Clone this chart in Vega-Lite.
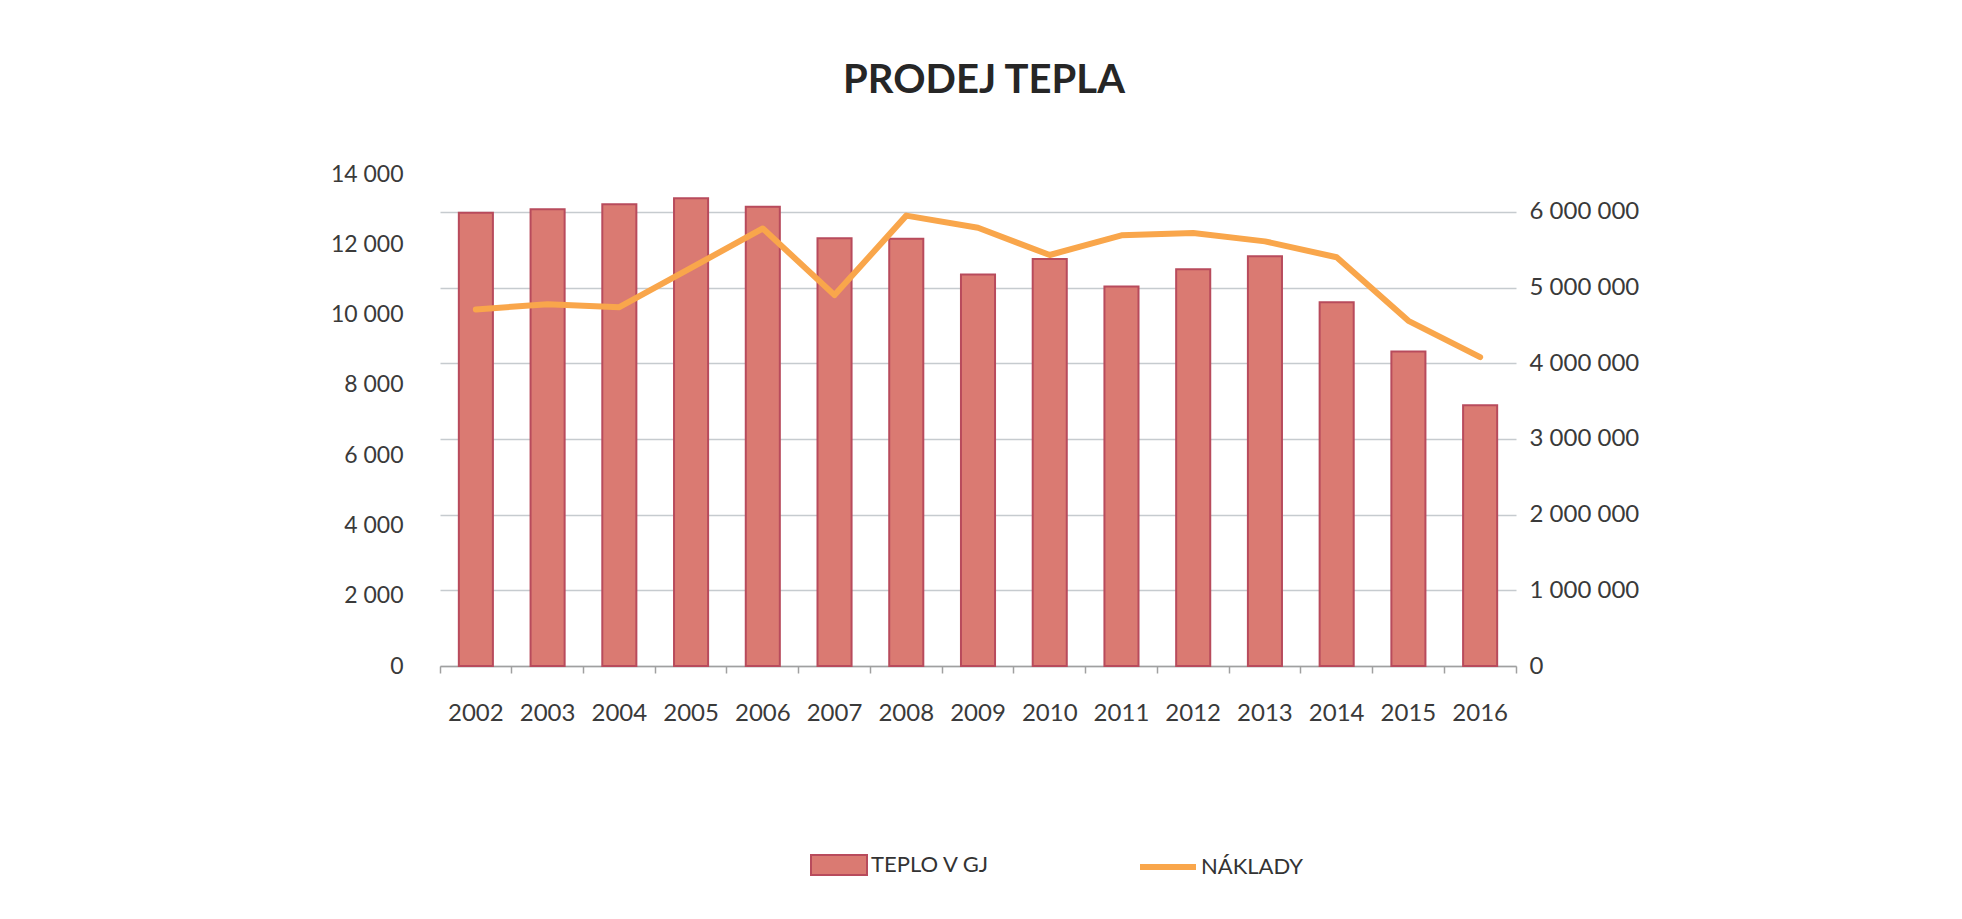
{
  "$schema": "https://vega.github.io/schema/vega-lite/v6.json",
  "autosize": {"type": "none"},
  "width": 1076,
  "height": 492,
  "padding": {"left": 440, "top": 174, "right": 446, "bottom": 253},
  "background": "#ffffff",
  "config": {
    "locale": {"number": {"decimal": ",", "thousands": " ", "grouping": [3], "currency": ["", ""]}},
    "font": "Lato",
    "view": {"stroke": null}
  },
  "title": {
    "text": "PRODEJ TEPLA",
    "font": "Lato",
    "fontSize": 40,
    "fontWeight": "bold",
    "color": "#262626",
    "anchor": "middle",
    "frame": "group",
    "offset": 62,
    "dx": 6
  },
  "data": {
    "values": [
      {"year": "2002", "teplo": 12900, "naklady": 4710000},
      {"year": "2003", "teplo": 13000, "naklady": 4780000},
      {"year": "2004", "teplo": 13140, "naklady": 4740000},
      {"year": "2005", "teplo": 13310, "naklady": 5260000},
      {"year": "2006", "teplo": 13070, "naklady": 5780000},
      {"year": "2007", "teplo": 12170, "naklady": 4900000},
      {"year": "2008", "teplo": 12160, "naklady": 5950000},
      {"year": "2009", "teplo": 11140, "naklady": 5790000},
      {"year": "2010", "teplo": 11580, "naklady": 5430000},
      {"year": "2011", "teplo": 10800, "naklady": 5690000},
      {"year": "2012", "teplo": 11290, "naklady": 5720000},
      {"year": "2013", "teplo": 11660, "naklady": 5610000},
      {"year": "2014", "teplo": 10350, "naklady": 5400000},
      {"year": "2015", "teplo": 8950, "naklady": 4560000},
      {"year": "2016", "teplo": 7420, "naklady": 4080000}
    ]
  },
  "encoding": {
    "x": {
      "field": "year",
      "type": "ordinal",
      "scale": {"paddingInner": 0, "paddingOuter": 0},
      "axis": {
        "title": null,
        "labelAngle": 0,
        "labelFontSize": 24,
        "labelFont": "Lato",
        "labelColor": "#3a3a3a",
        "labelPadding": 28,
        "bandPosition": 1,
        "tickExtra": true,
        "tickSize": 7,
        "tickColor": "#a0a0a0",
        "tickWidth": 1.5,
        "domainColor": "#a0a0a0",
        "domainWidth": 1.5,
        "grid": false
      }
    }
  },
  "layer": [
    {
      "mark": {"type": "bar", "width": {"band": 0.475}, "stroke": "#b84b5c", "strokeWidth": 2},
      "encoding": {
        "y": {
          "field": "teplo",
          "type": "quantitative",
          "scale": {"domain": [0, 14000], "nice": false},
          "axis": {
            "orient": "left",
            "title": null,
            "values": [0, 2000, 4000, 6000, 8000, 10000, 12000, 14000],
            "format": ",d",
            "grid": false,
            "domain": false,
            "ticks": false,
            "labelPadding": 37,
            "labelFontSize": 23,
            "labelFont": "Lato",
            "labelColor": "#3a3a3a"
          }
        },
        "fill": {
          "datum": "TEPLO V GJ",
          "type": "nominal",
          "scale": {"range": ["#da7a72"]},
          "legend": {
            "orient": "none",
            "legendX": 370,
            "legendY": 662,
            "title": null,
            "padding": 0,
            "symbolType": "M-1,-0.36H1V0.36H-1Z",
            "symbolSize": 3136,
            "symbolStrokeColor": "#b84b5c",
            "symbolStrokeWidth": 2,
            "symbolOpacity": 1,
            "labelFontSize": 22,
            "labelFont": "Lato",
            "labelColor": "#333333",
            "labelOffset": 3
          }
        }
      }
    },
    {
      "mark": {"type": "line", "strokeWidth": 6, "strokeJoin": "round", "strokeCap": "round"},
      "encoding": {
        "y": {
          "field": "naklady",
          "type": "quantitative",
          "scale": {"domain": [0, 6500000], "nice": false},
          "axis": {
            "orient": "right",
            "title": null,
            "values": [0, 1000000, 2000000, 3000000, 4000000, 5000000, 6000000],
            "format": ",d",
            "grid": true,
            "gridColor": "#c6cbcf",
            "gridWidth": 1.5,
            "domain": false,
            "ticks": false,
            "labelPadding": 13,
            "labelFontSize": 24,
            "labelFont": "Lato",
            "labelColor": "#3a3a3a"
          }
        },
        "stroke": {
          "datum": "NÁKLADY",
          "type": "nominal",
          "scale": {"range": ["#f9a64b"]},
          "legend": {
            "orient": "none",
            "legendX": 697,
            "legendY": 662,
            "title": null,
            "padding": 0,
            "symbolType": "stroke",
            "symbolSize": 3136,
            "symbolStrokeWidth": 6,
            "labelFontSize": 22,
            "labelFont": "Lato",
            "labelColor": "#333333",
            "labelOffset": 2
          }
        }
      }
    }
  ],
  "resolve": {"scale": {"y": "independent", "fill": "independent", "stroke": "independent"}}
}
